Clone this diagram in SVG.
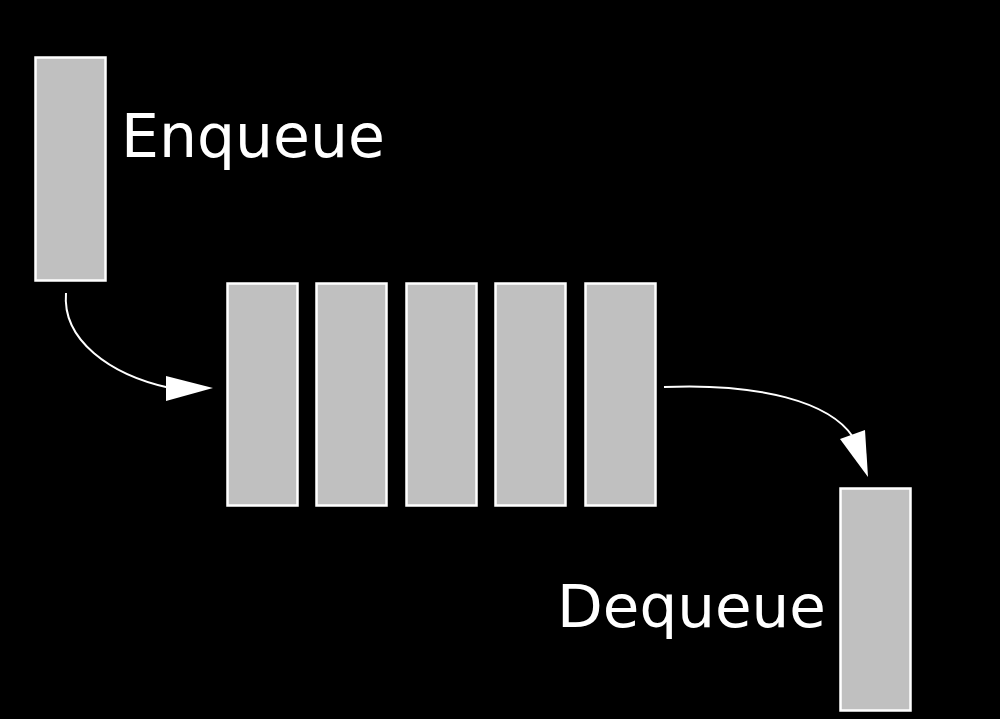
<svg xmlns="http://www.w3.org/2000/svg" width="1000" height="719" viewBox="0 0 1000 719">
<style>
.box{fill:#c0c0c0;stroke:#fff;stroke-width:2.5}
.lbl{fill:#fff;font-family:"DejaVu Sans",sans-serif;font-size:60px}
.conn{fill:none;stroke:#fff;stroke-width:2}
.head{fill:#fff}
</style>
<rect width="1000" height="719" fill="#000"/>
<g id="enqueue-node"><rect class="box" x="35.5" y="57.5" width="70" height="223"/><text class="lbl" x="121" y="157">Enqueue</text></g>
<g id="q1"><rect class="box" x="227.5" y="283.5" width="70" height="222"/></g>
<g id="q2"><rect class="box" x="316.5" y="283.5" width="70" height="222"/></g>
<g id="q3"><rect class="box" x="406.5" y="283.5" width="70" height="222"/></g>
<g id="q4"><rect class="box" x="495.5" y="283.5" width="70" height="222"/></g>
<g id="q5"><rect class="box" x="585.5" y="283.5" width="70" height="222"/></g>
<g id="dequeue-node"><rect class="box" x="840.5" y="488.5" width="70" height="222"/><text class="lbl" x="557" y="627" style="font-size:59.5px">Dequeue</text></g>
<g id="connectors">
<path class="conn" d="M66,293 C62,340 110,375 170,388"/>
<polygon class="head" points="213,388 166,376 166,401"/>
<path class="conn" d="M664,387 C760,383 830,402 853,437"/>
<polygon class="head" points="868,477 840,439 865,430"/>
</g>
</svg>
